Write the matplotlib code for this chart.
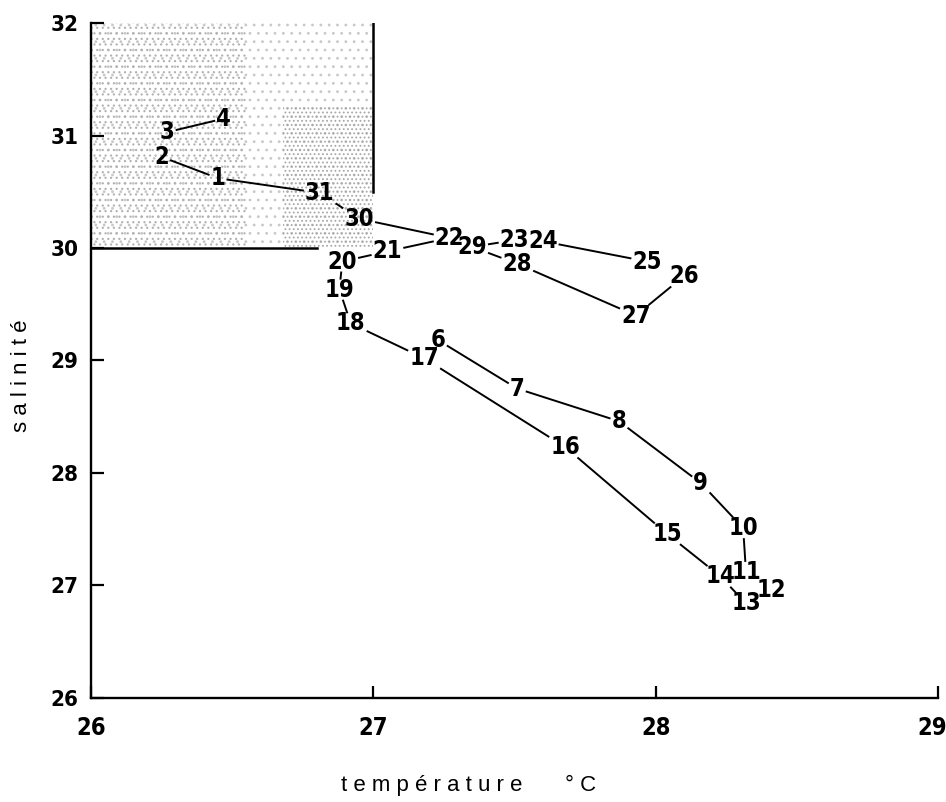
import matplotlib
matplotlib.use('Agg')
import matplotlib.pyplot as plt
import matplotlib.transforms as mtransforms
import numpy as np
from matplotlib.patches import Rectangle

# station number, temperature (°C), salinity
stations = [1, 2, 3, 4, 6, 7, 8, 9, 10, 11, 12, 13, 14, 15, 16, 17, 18, 19,
            20, 21, 22, 23, 24, 25, 26, 27, 28, 29, 30, 31]
temperature = [26.45, 26.25, 26.27, 26.47, 27.23, 27.51, 27.87, 28.16, 28.31,
               28.32, 28.41, 28.32, 28.23, 28.04, 27.68, 27.18, 26.92, 26.88,
               26.89, 27.05, 27.27, 27.50, 27.60, 27.97, 28.10, 27.93, 27.51,
               27.35, 26.95, 26.81]
salinity = [30.62, 30.81, 31.03, 31.15, 29.18, 28.75, 28.46, 27.91, 27.51,
            27.12, 26.96, 26.84, 27.08, 27.46, 28.23, 29.02, 29.33, 29.63,
            29.88, 29.97, 30.09, 30.07, 30.06, 29.88, 29.75, 29.40, 29.86,
            30.01, 30.26, 30.49]
# pairs of stations joined by a line
links = [(3, 4), (2, 1), (1, 31), (31, 30), (30, 22), (21, 22), (20, 21),
         (19, 20), (18, 19), (17, 18), (6, 7), (7, 8), (8, 9), (9, 10),
         (10, 11), (11, 12), (12, 13), (13, 14), (14, 15), (15, 16), (16, 17),
         (29, 23), (24, 25), (29, 28), (28, 27), (27, 26)]

# shaded zone (temperature 26-27, salinity 30-32)
zone_t = (26.0, 27.0)
zone_s = (30.0, 32.0)
zone_wall_bottom = 30.5   # vertical bar at 27 °C stops here
zone_floor_end = 26.8     # horizontal bar at 30 stops here

xticks = [26, 27, 28, 29]
yticks = [26, 27, 28, 29, 30, 31, 32]

narrow = dict(family='DejaVu Sans', stretch='condensed')
plain = ['Liberation Sans', 'DejaVu Sans']
plt.rcParams['hatch.linewidth'] = 0.8


def spaced(s):
    return ' '.join(s)


fig = plt.figure(figsize=(9.46, 8.02), dpi=100)
ax = fig.add_axes([0.0962, 0.1297, 0.8953, 0.8416])
ax.set_xlim(26, 29)
ax.set_ylim(26, 32)

# stippled background of the zone
ax.add_patch(Rectangle((zone_t[0], zone_s[0]), zone_t[1] - zone_t[0],
                       zone_s[1] - zone_s[0], facecolor='none',
                       edgecolor='#c8c8c8', hatch='..', linewidth=0, zorder=0))
ax.add_patch(Rectangle((zone_t[0], zone_s[0]), 0.55, zone_s[1] - zone_s[0],
                       facecolor='none', edgecolor='#b0b0b0', hatch='...',
                       linewidth=0, zorder=0))
ax.add_patch(Rectangle((26.68, zone_s[0]), 0.32, 1.25,
                       facecolor='none', edgecolor='#a8a8a8', hatch='....',
                       linewidth=0, zorder=0))
ax.plot([zone_t[1], zone_t[1]], [zone_wall_bottom, zone_s[1]], color='black', lw=1.8)
ax.plot([zone_t[0], zone_floor_end], [zone_s[0], zone_s[0]], color='black', lw=1.8)

labels = {}
for n, t, s in zip(stations, temperature, salinity):
    labels[n] = ax.text(t, s, str(n), ha='center', va='center', fontsize=17,
                        fontweight='bold', color='black', **narrow)

for sp in ['top', 'right']:
    ax.spines[sp].set_visible(False)
for sp in ['left', 'bottom']:
    ax.spines[sp].set_linewidth(1.7)

ax.set_xticks(xticks)
ax.set_yticks(yticks)
ax.set_xticklabels([str(v) for v in xticks], fontsize=17, fontweight='bold',
                   **narrow)
ax.set_yticklabels([str(v) for v in yticks], fontsize=16, fontweight='bold',
                   **narrow)
ax.tick_params(axis='both', direction='in', length=9, width=1.6)
ax.tick_params(axis='x', pad=13)
ax.tick_params(axis='y', pad=9)
last = ax.get_xticklabels()[-1]
last.set_transform(last.get_transform() +
                   mtransforms.ScaledTranslation(-6 / 100, 0, fig.dpi_scale_trans))

fig.text(0.456, 0.021, spaced('température'), ha='center', va='center',
         fontsize=16, family=plain)
fig.text(0.614, 0.021, '° C', ha='center', va='center',
         fontsize=16, family=plain)
fig.text(0.023, 0.531, spaced('salinité'), ha='center', va='center',
         rotation=90, fontsize=16, family=plain)

# lines between station labels, trimmed at the label boxes
fig.canvas.draw()
renderer = fig.canvas.get_renderer()


def clip(p, q, bb, gap=2.0):
    d = q - p
    hw = bb.width / 2 + gap
    hh = bb.height / 2 - 3 + gap
    tx = hw / abs(d[0]) if d[0] != 0 else np.inf
    ty = hh / abs(d[1]) if d[1] != 0 else np.inf
    return p + d * min(tx, ty), min(tx, ty)


inv = ax.transData.inverted()
for a, b in links:
    ba = labels[a].get_window_extent(renderer)
    bb = labels[b].get_window_extent(renderer)
    pa = np.array([(ba.x0 + ba.x1) / 2, (ba.y0 + ba.y1) / 2])
    pb = np.array([(bb.x0 + bb.x1) / 2, (bb.y0 + bb.y1) / 2])
    start, ta = clip(pa, pb, ba)
    end, tb = clip(pb, pa, bb)
    if ta + tb >= 1:
        continue
    d0 = inv.transform(start)
    d1 = inv.transform(end)
    ax.plot([d0[0], d1[0]], [d0[1], d1[1]], color='black', lw=1.4)

fig.savefig('out.png', dpi=100)
